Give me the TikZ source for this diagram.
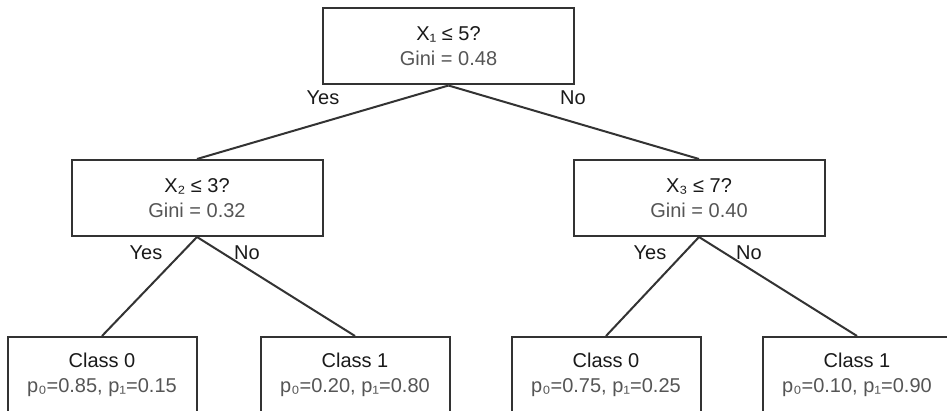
\documentclass[tikz,border=0pt]{standalone}
\usepackage{fontspec}
\setmainfont{Liberation Sans}
\definecolor{edgec}{HTML}{333333}
\definecolor{maintext}{HTML}{1A1A1A}
\definecolor{subtext}{HTML}{555555}
\begin{document}
\begin{tikzpicture}[x=1pt,y=-1pt,
  treebox/.style={draw=edgec, line width=2pt, fill=white, minimum width=251pt, minimum height=76pt,
    align=center, font=\fontsize{20pt}{25pt}\selectfont, text=maintext, inner sep=0pt},
  leafbox/.style={treebox, minimum width=189pt},
  boxtext/.style={align=center, font=\fontsize{20pt}{25pt}\selectfont, text=maintext, inner sep=0pt},
  branch/.style={draw=edgec, line width=2pt},
  lab/.style={font=\fontsize{20pt}{24pt}\selectfont, text=maintext, anchor=base, inner sep=0pt}]
\useasboundingbox (0,0) rectangle (947,411);
\fill[white] (0,0) rectangle (947,411);
\node[treebox] (root) at (448.5,46.5) {X₁ ≤ 5?\\\textcolor{subtext}{Gini = 0.48}};
\node[treebox] (l) at (197,198) {X₂ ≤ 3?\\\textcolor{subtext}{Gini = 0.32}};
\node[treebox] (r) at (699,198) {X₃ ≤ 7?\\\textcolor{subtext}{Gini = 0.40}};
\node[leafbox] (ll) at (102,375) {Class 0\\\textcolor{subtext}{p₀=0.85, p₁=0.15}};
\node[leafbox] (lr) at (355,375) {Class 1\\\textcolor{subtext}{p₀=0.20, p₁=0.80}};
\node[leafbox] (rl) at (606,375) {Class 0\\\textcolor{subtext}{p₀=0.75, p₁=0.25}};
\node[leafbox, minimum width=230pt] (rr) at (877.5,375) {};
\node[boxtext] (rrt) at (857,375) {Class 1\\\textcolor{subtext}{p₀=0.10, p₁=0.90}};
\draw[branch] (root.south) -- (l.north);
\draw[branch] (root.south) -- (r.north);
\draw[branch] (l.south) -- (ll.north);
\draw[branch] (l.south) -- (lr.north);
\draw[branch] (r.south) -- (rl.north);
\draw[branch] (r.south) -- (rr.north -| rrt.north);
\node[lab] (y0) at (323,105) {Yes};
\node[lab] (n0) at (573,105) {No};
\node[lab] (y1) at (146,260) {Yes};
\node[lab] (n1) at (247,260) {No};
\node[lab] (y2) at (650,260) {Yes};
\node[lab] (n2) at (749,260) {No};
\end{tikzpicture}
\end{document}
